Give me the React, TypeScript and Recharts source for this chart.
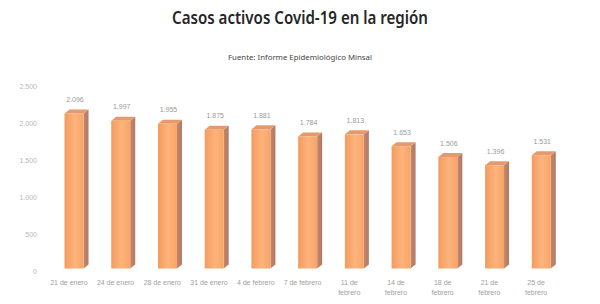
import React from 'react';
import { BarChart, Bar, XAxis, YAxis, LabelList } from 'recharts';

const categories = [
  '21 de enero', '24 de enero', '28 de enero', '31 de enero', '4 de febrero',
  '7 de febrero', '11 de febrero', '14 de febrero', '18 de febrero', '21 de febrero', '25 de febrero',
];
const casosActivos = [2096, 1997, 1955, 1875, 1881, 1784, 1813, 1653, 1506, 1396, 1531];
const yTicks = [0, 500, 1000, 1500, 2000, 2500];

const data = categories.map((c, i) => ({ fecha: c, casos: casosActivos[i] }));

const fmt = (v: number) => v.toLocaleString('de-DE');

const SHIFT_X = 2.5;
const LIFT = 3.5;
const DEPTH_X = 5;
const DEPTH_Y = 4;

const Bar3D = (props: any) => {
  const { x, y, width, height } = props;
  if (height == null || width == null) return null;
  const x0 = x + SHIFT_X;
  const y0 = y - LIFT;
  const x1 = x0 + width;
  const yb = y0 + height;
  return (
    <g>
      <path
        d={`M${x1},${y0} L${x1 + DEPTH_X},${y0 - DEPTH_Y} L${x1 + DEPTH_X},${yb - DEPTH_Y} L${x1},${yb} Z`}
        fill="url(#sideGrad)"
      />
      <path
        d={`M${x0},${y0} L${x0 + DEPTH_X},${y0 - DEPTH_Y} L${x1 + DEPTH_X},${y0 - DEPTH_Y} L${x1},${y0} Z`}
        fill="#E49A6C"
      />
      <rect x={x0} y={y0} width={width} height={height} fill="url(#frontGrad)" />
    </g>
  );
};

const ValueLabel = (props: any) => {
  const { x, y, width, value } = props;
  return (
    <text
      x={x + SHIFT_X + width / 2 + 1}
      y={y - LIFT - 11.5}
      textAnchor="middle"
      fontSize={7}
      fontFamily="Liberation Sans, Arial, sans-serif"
      fill="#9a9a9a"
    >
      {fmt(value)}
    </text>
  );
};

const XTick = (props: any) => {
  const { x, y, payload } = props;
  const label: string = payload.value;
  let lines = [label];
  if (label.length > 12) {
    const idx = label.indexOf(' de ') + 3;
    lines = [label.slice(0, idx), label.slice(idx + 1)];
  }
  return (
    <text
      x={x - 2.5}
      y={y}
      textAnchor="middle"
      fontSize={7}
      fontFamily="Liberation Sans, Arial, sans-serif"
      fill="#a0a0a0"
    >
      {lines.map((l, i) => (
        <tspan key={i} x={x - 2.5} dy={i === 0 ? 4.5 : 10}>
          {l}
        </tspan>
      ))}
    </text>
  );
};

export default function App() {
  return (
    <div style={{ position: 'absolute', left: 0, top: 0, width: 600, height: 304, background: '#fff' }}>
      <BarChart
        width={600}
        height={304}
        data={data}
        margin={{ top: 87, right: 38, bottom: 0, left: 0 }}
        barCategoryGap={0}
      >
        <defs>
          <linearGradient id="frontGrad" x1="0" y1="0" x2="1" y2="0">
            <stop offset="0%" stopColor="#F39C5E" />
            <stop offset="55%" stopColor="#FDB37C" />
            <stop offset="100%" stopColor="#F7A565" />
          </linearGradient>
          <linearGradient id="sideGrad" x1="0" y1="0" x2="1" y2="0">
            <stop offset="0%" stopColor="#C5876A" />
            <stop offset="100%" stopColor="#B07A66" />
          </linearGradient>
        </defs>
        <text
          x={300}
          y={24}
          textAnchor="middle"
          fontSize={17}
          fontWeight={600}
          fontFamily="Noto Sans, Open Sans, sans-serif"
          fill="#262626"
          textLength={256}
          lengthAdjust="spacingAndGlyphs"
        >
          Casos activos Covid-19 en la región
        </text>
        <text
          x={300}
          y={60}
          textAnchor="middle"
          fontSize={7.5}
          fontFamily="Noto Sans, Open Sans, sans-serif"
          fill="#444"
          textLength={144}
          lengthAdjust="spacingAndGlyphs"
        >
          Fuente: Informe Epidemiológico Minsal
        </text>
        <XAxis
          dataKey="fecha"
          axisLine={false}
          tickLine={false}
          interval={0}
          height={32}
          tick={<XTick />}
        />
        <YAxis
          domain={[0, 2500]}
          ticks={yTicks}
          width={48}
          axisLine={false}
          tickLine={false}
          tickMargin={5}
          tickFormatter={fmt}
          tick={{ fontSize: 7, fill: '#b8b8b8', fontFamily: 'Liberation Sans, Arial, sans-serif' }}
        />
        <Bar dataKey="casos" barSize={19} shape={<Bar3D />} isAnimationActive={false}>
          <LabelList dataKey="casos" content={<ValueLabel />} />
        </Bar>
      </BarChart>
    </div>
  );
}
